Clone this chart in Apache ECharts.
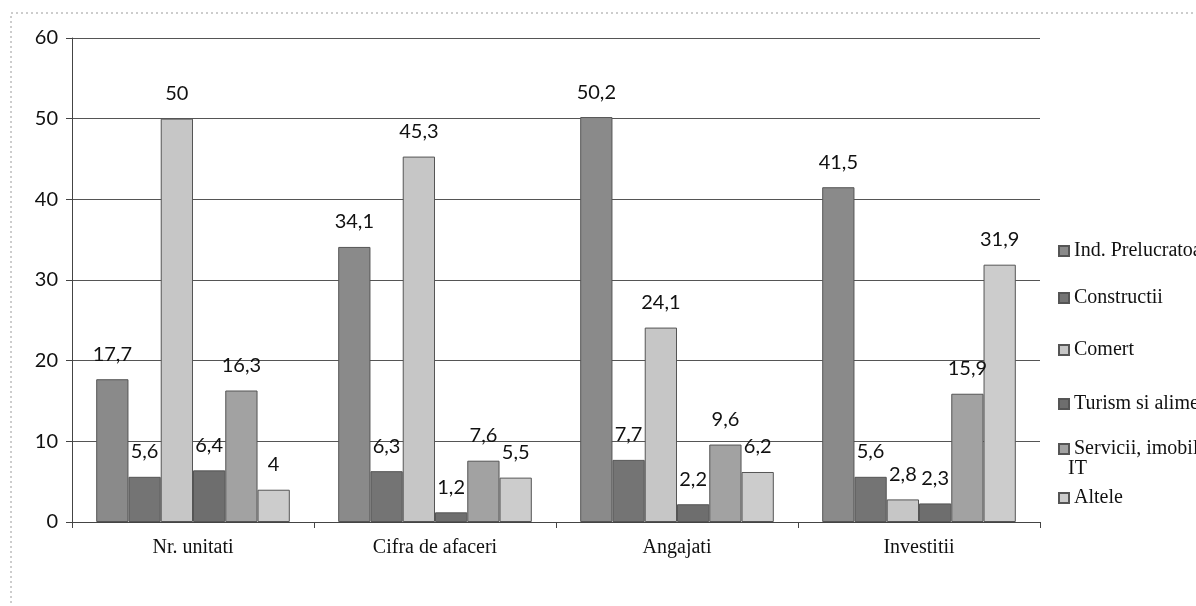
<!DOCTYPE html>
<html>
<head>
<meta charset="utf-8">
<script src="https://cdn.jsdelivr.net/npm/echarts@6/dist/echarts.min.js"></script>
<style>
  html, body { margin: 0; padding: 0; background: #fff; }
  #chart { width: 1196px; height: 606px; }
</style>
</head>
<body>
<div id="chart"></div>
<script>
var categories = ['Nr. unitati', 'Cifra de afaceri', 'Angajati', 'Investitii'];
var seriesNames = ['Ind. Prelucratoare', 'Constructii', 'Comert', 'Turism si alimentatie publica', 'Servicii, imobiliare, IT', 'Altele'];
var indPrelucratoare = [17.7, 34.1, 50.2, 41.5];
var constructii = [5.6, 6.3, 7.7, 5.6];
var comert = [50, 45.3, 24.1, 2.8];
var turism = [6.4, 1.2, 2.2, 2.3];
var servicii = [16.3, 7.6, 9.6, 15.9];
var altele = [4, 5.5, 6.2, 31.9];
var yTicks = [0, 10, 20, 30, 40, 50, 60];

var allData = [indPrelucratoare, constructii, comert, turism, servicii, altele];
var colors = ['#8a8a8a', '#747474', '#c6c6c6', '#6e6e6e', '#a2a2a2', '#cccccc'];
var legendTops = [236, 283, 335, 389, 434, 483];

var chart = echarts.init(document.getElementById('chart'));

var series = allData.map(function (d, i) {
  return {
    name: seriesNames[i],
    type: 'bar',
    data: d,
    barGap: '0%',
    barCategoryGap: '20%',
    itemStyle: { color: colors[i], borderColor: '#555', borderWidth: 1 },
    label: {
      show: true,
      position: 'top',
      distance: 15,
      color: '#111',
      fontFamily: 'Lato, "Open Sans", sans-serif',
      fontSize: 20,
      formatter: function (p) { return String(p.value).replace('.', ','); }
    }
  };
});

var legends = seriesNames.map(function (n, i) {
  return {
    data: [n],
    left: 1053,
    top: legendTops[i],
    itemWidth: 10,
    itemHeight: 10,
    itemGap: 4,
    icon: 'rect',
    selectedMode: false,
    textStyle: {
      fontFamily: '"Liberation Serif", "DejaVu Serif", serif',
      fontSize: 20,
      color: '#111'
    },
    // the wrapped second line ("IT") is drawn as a separate text below
    formatter: function (name) { return name.replace(' IT', ''); }
  };
});

chart.setOption({
  animation: false,
  backgroundColor: '#fff',
  color: colors,
  grid: { left: 72, right: 156, top: 38, bottom: 84 },
  legend: legends,
  xAxis: {
    type: 'category',
    data: categories,
    axisLine: { lineStyle: { color: '#444', width: 1 } },
    axisTick: { show: true, length: 6, lineStyle: { color: '#444' } },
    axisLabel: {
      color: '#111',
      fontFamily: '"Liberation Serif", "DejaVu Serif", serif',
      fontSize: 20,
      margin: 16
    }
  },
  yAxis: {
    type: 'value',
    min: yTicks[0],
    max: yTicks[yTicks.length - 1],
    interval: 10,
    axisLine: { show: true, lineStyle: { color: '#444', width: 1 } },
    axisTick: { show: true, length: 6, lineStyle: { color: '#444' } },
    axisLabel: {
      color: '#111',
      fontFamily: 'Lato, "Open Sans", sans-serif',
      fontSize: 20,
      margin: 14
    },
    splitLine: { lineStyle: { color: '#555', width: 1 } }
  },
  graphic: [{
    type: 'rect',
    shape: { x: 11, y: 13, width: 1200, height: 600 },
    style: { fill: null, stroke: '#9a9a9a', lineWidth: 1, lineDash: [2, 3] },
    silent: true
  }, {
    type: 'text',
    x: 1068,
    y: 469,
    style: {
      text: 'IT',
      fill: '#111',
      verticalAlign: 'middle',
      font: '20px "Liberation Serif", "DejaVu Serif", serif'
    },
    silent: true
  }],
  series: series
});
</script>
</body>
</html>
